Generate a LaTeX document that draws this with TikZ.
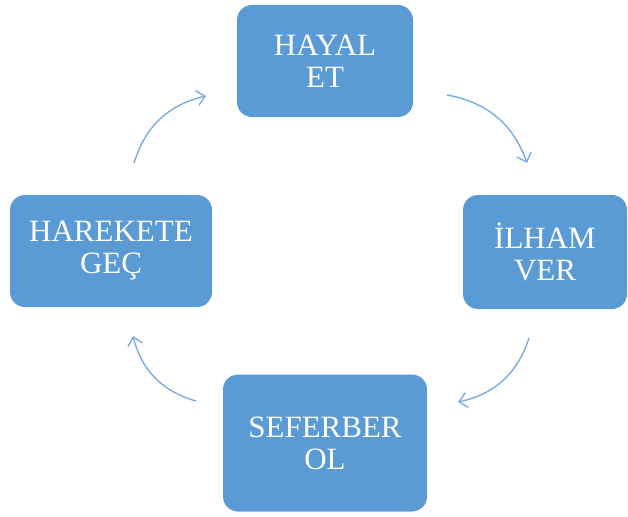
\documentclass[tikz,border=0pt]{standalone}
\usepackage{fontspec}
\setmainfont{Liberation Serif}
\usetikzlibrary{arrows.meta}
\definecolor{boxblue}{RGB}{91,155,213}
\definecolor{arcblue}{RGB}{122,172,224}
\begin{document}
\begin{tikzpicture}[x=1pt,y=-1pt,
  stepbox/.style={fill=boxblue,draw=none,rounded corners=15pt,text=white,align=center,
    font=\fontsize{31}{32}\selectfont},
  cyclearrow/.style={draw=arcblue,line width=1.4pt,-{Straight Barb[length=8pt,width=15pt,line width=1.4pt]}}]
\useasboundingbox (0,0) rectangle (628,516);
%	boxes, clockwise from the top
\node[stepbox,minimum width=176pt,minimum height=112pt] (hayal)   at (325,61)  {HAYAL\\ET};
\node[stepbox,minimum width=164pt,minimum height=114pt] (ilham)   at (545,252) {İLHAM\\VER};
\node[stepbox,minimum width=204pt,minimum height=137pt] (seferber) at (325,443) {SEFERBER\\OL};
\node[stepbox,minimum width=202pt,minimum height=112pt] (harekete) at (111,251) {HAREKETE\\GEÇ};

\coordinate (a1) at (447,95);  \coordinate (b1) at (527,163);
\coordinate (a2) at (529,338); \coordinate (b2) at (458,402);
\coordinate (a3) at (196,401); \coordinate (b3) at (133,336);
\coordinate (a4) at (134,163); \coordinate (b4) at (206,96);

\draw[cyclearrow] (a1) to[bend left=30] (b1);
\draw[cyclearrow] (a2) to[bend left=30] (b2);
\draw[cyclearrow] (a3) to[bend left=30] (b3);
\draw[cyclearrow] (a4) to[bend left=30] (b4);
\end{tikzpicture}
\end{document}
